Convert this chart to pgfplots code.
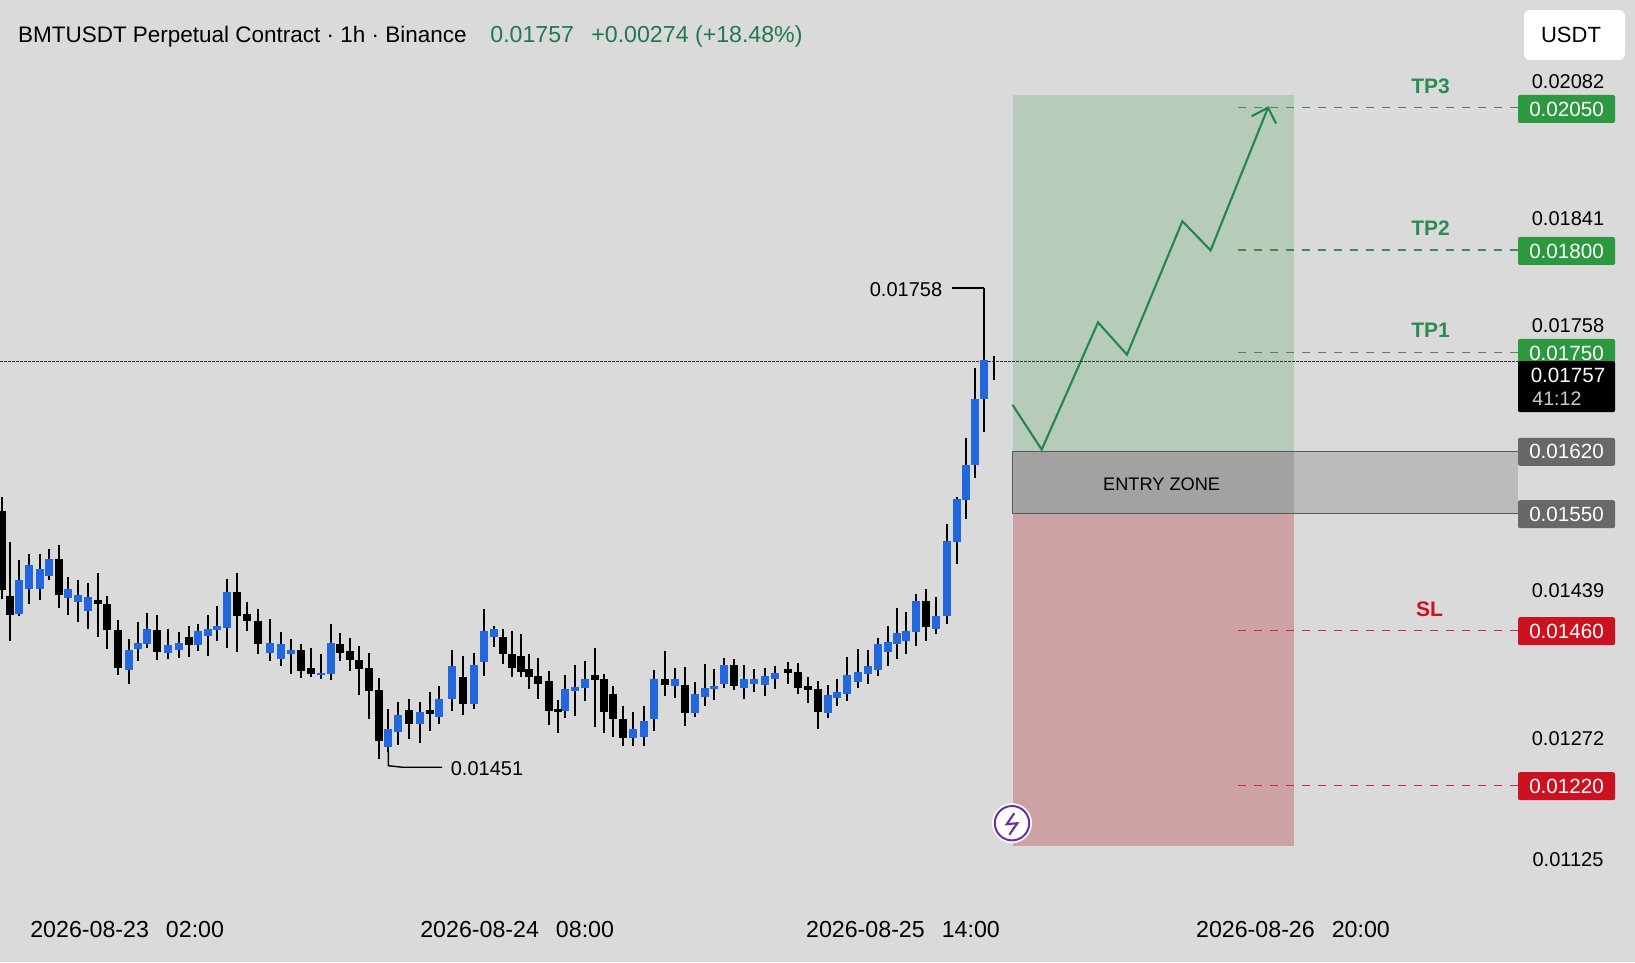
\documentclass[border=0pt]{standalone}
\usepackage{pgfplots}
\usepackage{pgfplotstable}
\usepackage{fontspec}
\pgfplotsset{compat=1.18}
\setmainfont{Liberation Sans}
\definecolor{bgc}{HTML}{DBDADB}
\definecolor{zgreen}{HTML}{B7CBBB}
\definecolor{zred}{HTML}{CDA2A5}
\definecolor{zgrayd}{HTML}{A2A2A2}
\definecolor{zgrayl}{HTML}{BBBBBB}
\definecolor{bluec}{HTML}{2268DC}
\definecolor{lineg}{HTML}{23864A}
\definecolor{dashg}{HTML}{3F8A5A}
\definecolor{dashr}{HTML}{CC2E38}
\definecolor{tpg}{HTML}{2A8C50}
\definecolor{badgeg}{HTML}{2C983F}
\definecolor{badger}{HTML}{CC1120}
\definecolor{badgeb}{HTML}{686868}
\definecolor{headg}{HTML}{1F7A4E}
\definecolor{purp}{HTML}{6F2DA8}
% candles: x position, high, body top, body bottom, low (prices)
\pgfplotstableread{
x h t b l
19.3 0.015839 0.015711 0.015494 0.015481
29.3 0.015882 0.015807 0.015658 0.015558
40.3 0.015882 0.015780 0.015654 0.015583
49.3 0.015908 0.015846 0.015737 0.015711
68.3 0.015733 0.015656 0.015600 0.015489
78.0 0.015711 0.015617 0.015570 0.015442
87.7 0.015694 0.015605 0.015515 0.015396
128.7 0.015332 0.015263 0.015135 0.015046
138.3 0.015445 0.015310 0.015270 0.015195
147.0 0.015502 0.015396 0.015302 0.015276
168.3 0.015402 0.015295 0.015246 0.015204
179.0 0.015381 0.015310 0.015263 0.015216
198.0 0.015434 0.015387 0.015297 0.015259
207.7 0.015487 0.015396 0.015357 0.015229
217.3 0.015545 0.015421 0.015391 0.015323
227.3 0.015720 0.015634 0.015408 0.015276
270.0 0.015460 0.015310 0.015246 0.015191
281.3 0.015378 0.015306 0.015204 0.015163
291.3 0.015332 0.015263 0.015238 0.015114
320.7 0.015238 0.015118 0.015103 0.015080
330.7 0.015430 0.015310 0.015110 0.015071
388.3 0.014884 0.014762 0.014645 0.014613
398.3 0.014933 0.014847 0.014741 0.014655
419.7 0.014933 0.014869 0.014794 0.014672
439.3 0.015033 0.014952 0.014837 0.014790
452.0 0.015263 0.015161 0.014950 0.014875
474.3 0.015248 0.015167 0.014922 0.014890
483.7 0.015524 0.015387 0.015189 0.015097
493.7 0.015417 0.015396 0.015349 0.015285
565.3 0.015103 0.015012 0.014875 0.014830
574.7 0.015167 0.015029 0.015003 0.014841
584.7 0.015193 0.015082 0.015024 0.014939
632.7 0.014869 0.014756 0.014700 0.014649
643.7 0.014907 0.014807 0.014709 0.014651
654.3 0.015135 0.015082 0.014822 0.014747
675.0 0.015152 0.015076 0.015033 0.014960
695.3 0.015061 0.014986 0.014862 0.014837
705.3 0.015174 0.015020 0.014965 0.014909
714.3 0.015146 0.015033 0.015018 0.014943
724.0 0.015216 0.015169 0.015046 0.015020
744.3 0.015167 0.015076 0.015024 0.014950
754.3 0.015140 0.015082 0.015050 0.014997
765.0 0.015152 0.015097 0.015041 0.014969
775.3 0.015161 0.015118 0.015082 0.015016
827.7 0.015039 0.014975 0.014862 0.014832
837.3 0.015082 0.014994 0.014960 0.014909
847.3 0.015221 0.015105 0.014982 0.014939
858.3 0.015268 0.015125 0.015061 0.015022
868.3 0.015263 0.015161 0.015114 0.015050
878.3 0.015344 0.015300 0.015135 0.015097
887.7 0.015419 0.015317 0.015253 0.015165
896.7 0.015534 0.015374 0.015306 0.015210
906.0 0.015509 0.015387 0.015323 0.015238
916.3 0.015622 0.015575 0.015381 0.015291
936.3 0.015605 0.015483 0.015398 0.015366
947.0 0.016074 0.015963 0.015483 0.015430
957.0 0.016245 0.016228 0.015957 0.015814
965.7 0.016624 0.016447 0.016223 0.016100
974.7 0.017072 0.016870 0.016447 0.016368
984.0 0.017578 0.017119 0.016870 0.016661
}\upcandles
\pgfplotstableread{
x h t b l
1.7 0.016245 0.016155 0.015647 0.015594
9.7 0.015957 0.015609 0.015487 0.015319
59.0 0.015937 0.015846 0.015615 0.015536
98.3 0.015758 0.015583 0.015558 0.015349
107.3 0.015609 0.015558 0.015391 0.015274
118.0 0.015455 0.015391 0.015148 0.015105
157.3 0.015487 0.015391 0.015250 0.015199
189.0 0.015419 0.015349 0.015295 0.015221
237.3 0.015760 0.015634 0.015485 0.015253
247.3 0.015573 0.015492 0.015447 0.015387
258.0 0.015530 0.015451 0.015306 0.015242
301.0 0.015306 0.015263 0.015127 0.015088
310.7 0.015280 0.015152 0.015114 0.015093
340.3 0.015376 0.015306 0.015248 0.015195
350.0 0.015344 0.015257 0.015199 0.015131
358.7 0.015291 0.015199 0.015142 0.014979
369.0 0.015246 0.015150 0.015003 0.014826
378.7 0.015084 0.015007 0.014683 0.014568
409.3 0.014954 0.014879 0.014790 0.014698
430.3 0.014997 0.014879 0.014852 0.014747
463.0 0.015229 0.015093 0.014922 0.014847
503.0 0.015402 0.015349 0.015242 0.015174
512.3 0.015387 0.015238 0.015152 0.015093
521.3 0.015366 0.015229 0.015125 0.015093
529.0 0.015242 0.015146 0.015093 0.015012
538.0 0.015214 0.015097 0.015046 0.014948
548.7 0.015131 0.015065 0.014875 0.014783
558.3 0.014943 0.014890 0.014869 0.014734
594.7 0.015280 0.015103 0.015071 0.014773
603.7 0.015114 0.015082 0.014866 0.014734
613.0 0.015033 0.014986 0.014826 0.014709
623.0 0.014905 0.014820 0.014704 0.014649
664.7 0.015259 0.015082 0.015041 0.014969
685.3 0.015157 0.015041 0.014862 0.014781
734.3 0.015206 0.015169 0.015033 0.015007
788.0 0.015189 0.015140 0.015118 0.015046
798.3 0.015184 0.015125 0.015024 0.014986
808.0 0.015093 0.015033 0.015007 0.014926
817.7 0.015063 0.015012 0.014866 0.014762
926.3 0.015658 0.015575 0.015413 0.015323
993.7 0.017147 0.017113 0.017113 0.016991
}\downcandles
\newcommand{\badge}[4]{\node[fill=#1,text=white,rounded corners=1pt,minimum width=48.5pt,minimum height=#4,inner sep=0pt,font=\fontsize{10.3}{12}\selectfont] at (axis cs:1566.5,#2) {#3};}
\newcommand{\plabel}[2]{\node[text=black,inner sep=0pt,font=\fontsize{10}{12}\selectfont] at (axis cs:1568,#1) {#2};}
\begin{document}
\begin{tikzpicture}
\begin{axis}[name=over,at={(0,0)},anchor=south west,scale only axis,width=817.5pt,height=481pt,
  hide axis,xmin=0,xmax=1635,ymin=0,ymax=962,y dir=reverse,clip=true]
\addplot[draw=none,fill=bgc] coordinates {(0,0)(1635,0)(1635,962)(0,962)} --cycle;
% zones
\addplot[draw=none,fill=zgreen] coordinates {(1012.5,95)(1294,95)(1294,451)(1012.5,451)} --cycle;
\addplot[draw=none,fill=zred] coordinates {(1012.5,513)(1294,513)(1294,845.6)(1012.5,845.6)} --cycle;
\addplot[draw=none,fill=zgrayl] coordinates {(1294,451)(1518,451)(1518,513)(1294,513)} --cycle;
\addplot[draw=none,fill=zgrayd] coordinates {(1012.5,451)(1294,451)(1294,513)(1012.5,513)} --cycle;
\addplot[color=black!65,line width=0.6pt] coordinates {(1518,451)(1012.5,451)(1012.5,513)(1518,513)};
% planned path
\addplot[color=lineg,line width=1.05pt] coordinates {(1012.5,404.6)(1041.7,449.4)(1098,322.2)(1127,354.5)(1182.4,221)(1210.6,250.2)(1268,107.4)};
\addplot[color=lineg,line width=1.05pt] coordinates {(1251.7,116)(1268,107.4)(1276,123.4)};
% level lines
\addplot[color=dashg,line width=0.7pt,dash pattern=on 4pt off 4pt] coordinates {(1238,107.4)(1518,107.4)};
\addplot[color=dashg,line width=0.7pt,dash pattern=on 4pt off 4pt] coordinates {(1238,249.7)(1518,249.7)};
\addplot[color=dashg,line width=0.7pt,dash pattern=on 4pt off 4pt] coordinates {(1238,352.4)(1518,352.4)};
\addplot[color=dashr,line width=0.7pt,dash pattern=on 4pt off 4pt] coordinates {(1238,630.3)(1518,630.3)};
\addplot[color=dashr,line width=0.7pt,dash pattern=on 4pt off 4pt] coordinates {(1238,785)(1518,785)};
\addplot[color=black!80,line width=0.45pt,dash pattern=on 1.5pt off 0.5pt] coordinates {(0,361)(1518,361)};
% callouts
\addplot[color=black,line width=0.7pt] coordinates {(952,288)(984,288)};
\addplot[color=black,line width=0.7pt] coordinates {(388.3,752)(388.3,765.5)(402,767)(442,767)};
\node[text=black,inner sep=0pt,font=\fontsize{10}{12}\selectfont] at (axis cs:906,289.6) {0.01758};
\node[text=black,inner sep=0pt,font=\fontsize{10}{12}\selectfont] at (axis cs:487,768.2) {0.01451};
\node[text=black,inner sep=0pt,font=\fontsize{9.1}{12}\selectfont] at (axis cs:1161.6,483.6) {ENTRY ZONE};
% header
\node[anchor=base west,text=black,inner sep=0pt,font=\fontsize{11.24}{13}\selectfont] at (axis cs:17.7,42) {BMTUSDT Perpetual Contract · 1h · Binance};
\node[anchor=base west,text=headg,inner sep=0pt,font=\fontsize{11.58}{13}\selectfont] at (axis cs:490,42) {0.01757};
\node[anchor=base west,text=headg,inner sep=0pt,font=\fontsize{11.58}{13}\selectfont] at (axis cs:591,42) {+0.00274 (+18.48\%)};
\node[fill=white,rounded corners=3pt,minimum width=50.5pt,minimum height=25pt,inner sep=0pt] at (axis cs:1574.5,35) {};
\node[text=black,inner sep=0pt,font=\fontsize{11}{13}\selectfont] at (axis cs:1571,35) {USDT};
% level names
\node[text=tpg,inner sep=0pt,font=\bfseries\fontsize{10.5}{12}\selectfont] at (axis cs:1430.6,86) {TP3};
\node[text=tpg,inner sep=0pt,font=\bfseries\fontsize{10.5}{12}\selectfont] at (axis cs:1430.6,227.8) {TP2};
\node[text=tpg,inner sep=0pt,font=\bfseries\fontsize{10.5}{12}\selectfont] at (axis cs:1430.6,330) {TP1};
\node[text=badger,inner sep=0pt,font=\bfseries\fontsize{10.5}{12}\selectfont] at (axis cs:1429.5,609) {SL};
% price scale
\plabel{81}{0.02082}
\plabel{218.8}{0.01841}
\plabel{325.6}{0.01758}
\plabel{590.6}{0.01439}
\plabel{738.8}{0.01272}
\plabel{859.8}{0.01125}
\badge{badgeg}{108.8}{0.02050}{14pt}
\badge{badgeg}{250.8}{0.01800}{14pt}
\badge{badgeg}{352.8}{0.01750}{14pt}
\badge{black}{386.5}{}{25.5pt}
\node[text=white,inner sep=0pt,font=\fontsize{10.3}{12}\selectfont] at (axis cs:1568,375.6) {0.01757};
\node[anchor=west,text=white!80!black,inner sep=0pt,font=\fontsize{9.8}{12}\selectfont] at (axis cs:1532,398.2) {41:12};
\badge{badgeb}{451.6}{0.01620}{14pt}
\badge{badgeb}{514}{0.01550}{14pt}
\badge{badger}{631}{0.01460}{14pt}
\badge{badger}{786}{0.01220}{14pt}
% flash icon
\fill[white] (axis cs:1012,823) circle[radius=10pt];
\draw[purp,line width=1pt] (axis cs:1012,823) circle[radius=8.6pt];
\addplot[color=purp,line width=1.05pt] coordinates {(1014.3,813)(1006.7,824)(1017.3,823)(1009.3,834.6)};
\end{axis}
\begin{axis}[at={(0,0)},anchor=south west,scale only axis,width=817.5pt,height=481pt,
  xmin=0,xmax=1635,ymin=0.0132664,ymax=0.0194232,
  axis line style={draw=none},major tick length=0pt,ytick=\empty,
  xtick={127.2,517.2,903,1293},
  xticklabels={2026-08-23\hspace{8.5pt}02:00,2026-08-24\hspace{8.5pt}08:00,2026-08-25\hspace{8.5pt}14:00,2026-08-26\hspace{8.5pt}20:00},
  xticklabel style={anchor=center,yshift=16.5pt,font=\fontsize{11.6}{13}\selectfont,text=black},
  clip=true]
\pgfplotsset{wick/.style={draw=none,mark=none,forget plot,error bars/.cd,y dir=minus,y explicit,error mark=none,error bar style={line width=1pt,color=black}}}
\addplot[wick] table[x=x,y=h,y error minus expr=\thisrow{h}-\thisrow{l}] {\upcandles};
\addplot[wick] table[x=x,y=h,y error minus expr=\thisrow{h}-\thisrow{l}] {\downcandles};
\addplot[draw=none,mark=none,forget plot,error bars/.cd,y dir=minus,y explicit,error mark=none,error bar style={line width=4pt,color=bluec}] table[x=x,y=t,y error minus expr=\thisrow{t}-\thisrow{b}] {\upcandles};
\addplot[draw=none,mark=none,forget plot,error bars/.cd,y dir=minus,y explicit,error mark=none,error bar style={line width=4pt,color=black}] table[x=x,y=t,y error minus expr=\thisrow{t}-\thisrow{b}] {\downcandles};
\end{axis}
\end{tikzpicture}
\end{document}
